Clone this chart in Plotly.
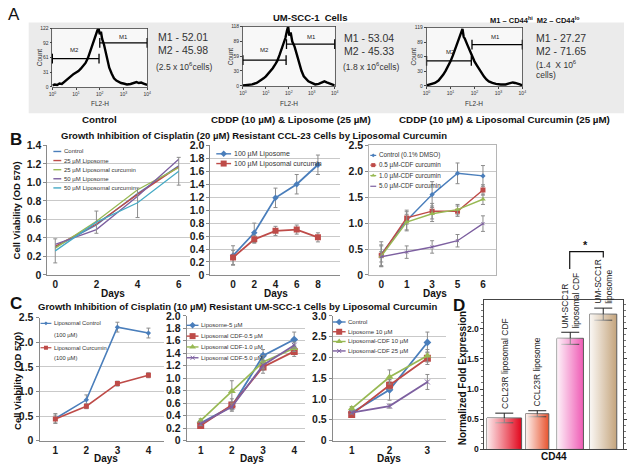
import numpy as np
import plotly.graph_objects as go

W, H = 630, 469
SANS = "Liberation Sans, Arial, Helvetica, sans-serif"

# ====================== DATA ======================
# Panel A - flow cytometry histograms (log10 FL2-H channel, event count)
ctrl_log_fl = [0.00, 0.10, 0.20, 0.30, 0.40, 0.50, 0.60, 0.70, 0.80, 0.90, 1.00, 1.10, 1.20, 1.30, 1.40,
               1.50, 1.60, 1.70, 1.78, 1.85, 1.90, 1.95, 2.00, 2.05, 2.10, 2.18, 2.25, 2.32, 2.40, 2.50,
               2.60, 2.70, 2.80, 2.90, 3.00, 3.15, 3.30, 3.45, 3.55, 3.65, 3.75, 3.85, 3.95, 4.00]
ctrl_count = [3, 5, 4, 7, 6, 10, 14, 19, 24, 27, 30, 33, 38, 44, 50,
              60, 75, 90, 102, 112, 118, 122, 110, 115, 100, 88, 72, 55, 40, 28,
              18, 13, 10, 8, 7, 5, 6, 9, 10, 8, 9, 7, 5, 4]
lipo_log_fl = [0.0, 0.2, 0.4, 0.6, 0.8, 0.9, 1.0, 1.1, 1.2, 1.3, 1.4, 1.5, 1.6, 1.7, 1.78, 1.85, 1.92,
               1.97, 2.02, 2.08, 2.15, 2.25, 2.35, 2.45, 2.55, 2.65, 2.75, 2.85, 3.0, 3.15, 3.3, 3.45,
               3.55, 3.65, 3.8, 3.9, 4.0]
lipo_count = [1, 2, 3, 6, 11, 15, 19, 24, 29, 35, 42, 50, 62, 75, 85, 95, 110,
              118, 100, 106, 88, 78, 62, 45, 30, 19, 13, 9, 6, 3, 4, 7,
              9, 7, 4, 2, 1]
curc_log_fl = [0.0, 0.2, 0.35, 0.5, 0.6, 0.7, 0.8, 0.9, 1.0, 1.1, 1.2, 1.3, 1.38, 1.45, 1.5, 1.55, 1.6,
               1.7, 1.8, 1.9, 2.0, 2.1, 2.2, 2.3, 2.4, 2.5, 2.6, 2.75, 2.9, 3.1, 3.3, 3.45, 3.6, 3.7,
               3.8, 3.9, 4.0]
curc_count = [1, 3, 6, 11, 16, 23, 31, 40, 50, 62, 76, 88, 98, 108, 116, 100, 96,
              84, 72, 60, 50, 42, 34, 26, 19, 13, 9, 6, 4, 3, 3, 5, 7, 6,
              5, 3, 1]
hist_ymax = [122, 118, 119]
hist_yticks = [[0, 31, 61, 92, 122], [0, 30, 59, 89, 118], [0, 30, 60, 89, 119]]
m1_gate_fl = [[100, 10000], [79, 10000], [79, 10000]]
m1_gate_level = [92, 83, 84]
m2_gate_fl = [[1, 93], [1, 76], [1, 74]]
m2_gate_level = [59, 51, 51]
m1_pct = ["52.01", "53.04", "27.27"]
m2_pct = ["45.98", "45.33", "71.65"]
cell_counts = ["2.5", "1.8", "1.4"]
treatments = ["Control", "CDDP (10 µM) & Liposome (25 µM)", "CDDP (10 µM) & Liposomal Curcumin (25 µM)"]

# Panel B1
b1_days = [0, 2, 4, 6]
b1_control = [0.30, 0.54, 0.88, 1.18]
b1_lipo25 = [0.31, 0.55, 0.87, 1.17]
b1_curc25 = [0.29, 0.58, 0.92, 1.16]
b1_lipo50 = [0.33, 0.49, 0.85, 1.25]
b1_curc50 = [0.26, 0.57, 0.78, 1.12]
b1_curc50_err = [0.13, 0.12, 0.16, 0.15]
b1_names = ["Control", "25 µM Liposome", "25 µM Liposomal curcumin", "50 µM Liposome", "50 µM Liposomal curcumin"]

# Panel B2
b2_days = [0, 2, 4, 6, 8]
b2_lipo = [0.30, 0.65, 1.19, 1.40, 1.70]
b2_lipo_err = [0.15, 0.15, 0.15, 0.15, 0.15]
b2_curc = [0.27, 0.55, 0.68, 0.70, 0.58]
b2_curc_err = [0.11, 0.06, 0.07, 0.07, 0.07]
b2_names = ["100 µM Liposome", "100 µM Liposomal curcumin"]

# Panel B3
b3_days = ["0", "1", "3", "5", "6"]
b3_control = [0.40, 1.05, 1.55, 1.96, 1.91]
b3_control_err = [0.24, 0.20, 0.25, 0.20, 0.20]
b3_cdf05 = [0.38, 1.10, 1.23, 1.23, 1.64]
b3_cdf05_err = [0.20, 0.12, 0.15, 0.10, 0.10]
b3_cdf10 = [0.36, 1.02, 1.18, 1.26, 1.46]
b3_cdf10_err = [0.20, 0.15, 0.15, 0.10, 0.10]
b3_cdf50 = [0.35, 0.44, 0.54, 0.66, 0.99]
b3_cdf50_err = [0.10, 0.12, 0.12, 0.12, 0.15]
b3_names = ["Control (0.1% DMSO)", "0.5 µM-CDF curcumin", "1.0 µM-CDF curcumin", "5.0 µM-CDF curcumin"]

# Panel C1
c1_days = [1, 2, 3, 4]
c1_lipo = [0.45, 0.83, 2.31, 2.19]
c1_lipo_err = [0.10, 0.10, 0.10, 0.10]
c1_curc = [0.44, 0.70, 1.16, 1.33]
c1_curc_err = [0.08, 0.05, 0.05, 0.05]
c1_names = ["Liposomal Control", "Liposomal Curcumin"]

# Panel C2
c2_days = [1, 2, 3, 4]
c2_lipo5 = [0.28, 0.55, 1.36, 1.62]
c2_lipo5_err = [0.03, 0.05, 0.10, 0.12]
c2_cdf05 = [0.24, 0.57, 1.18, 1.43]
c2_cdf05_err = [0.03, 0.10, 0.10, 0.08]
c2_cdf10 = [0.32, 0.79, 1.26, 1.48]
c2_cdf10_err = [0.03, 0.17, 0.10, 0.05]
c2_cdf50 = [0.27, 0.54, 1.21, 1.53]
c2_cdf50_err = [0.03, 0.05, 0.08, 0.05]
c2_names = ["Liposome-5 µM", "Liposomal CDF-0.5 µM", "Liposomal CDF-1.0 µM", "Liposomal CDF-5.0 µM"]

# Panel C3
c3_days = [1, 2, 3]
c3_control = [0.67, 1.22, 2.36]
c3_control_err = [0.05, 0.25, 0.25]
c3_lipo10 = [0.63, 1.33, 1.98]
c3_lipo10_err = [0.05, 0.10, 0.15]
c3_cdf10 = [0.77, 1.53, 2.04]
c3_cdf10_err = [0.05, 0.17, 0.15]
c3_cdf25 = [0.67, 0.83, 1.41]
c3_cdf25_err = [0.03, 0.05, 0.18]
c3_names = ["Control", "Liposome 10 µM", "Liposomal-CDF 10 µM", "Liposomal-CDF 25 µM"]

# Panel D
d_groups = ["CCL23R liposomal CDF", "CCL23R liposome", "UM-SCC1R<br>liposomal CDF", "UM-SCC1R<br>liposome"]
d_values = [0.52, 0.59, 1.84, 2.24]
d_errors = [0.08, 0.05, 0.10, 0.10]
d_yticks = [0, 0.5, 1.0, 1.5, 2.0]

# ====================== STYLE ======================
BLUE, RED, GREEN, PURPLE, CYAN = "#4A7EBB", "#BE4B48", "#98B954", "#7D60A0", "#46AAC5"
ERR = "#8C8C8C"
GRID = "#C9C9C9"
AXC = "#8A8A8A"

fig = go.Figure()
ann = []
shapes = []
lay = {}


def dom(box):
    x0, x1, y0, y1 = box
    return [x0 / W, x1 / W], [1 - y1 / H, 1 - y0 / H]


def text(x, y, s, size, bold=False, family=SANS, xanchor="center", yanchor="middle",
         angle=0, color="#111111", align="center"):
    ann.append(dict(x=x / W, y=1 - y / H, xref="paper", yref="paper", text=s, showarrow=False,
                    xanchor=xanchor, yanchor=yanchor, textangle=angle, align=align, borderpad=0,
                    font=dict(family=family, size=size, color=color,
                              weight="bold" if bold else "normal")))


def fmt(v):
    return "0" if v == 0 else f"{v:.1f}"


# ---------------- Panel A ----------------
shapes.append(dict(type="rect", xref="paper", yref="paper", x0=25 / W, x1=628 / W,
                   y0=1 - 110 / H, y1=1 - 17 / H, fillcolor="#EBEBEB", line=dict(width=0), layer="below"))
hist_boxes = [(49, 145, 23, 83), (242, 335, 21, 82), (428, 525, 22, 82)]
hist_logs = [ctrl_log_fl, lipo_log_fl, curc_log_fl]
hist_counts = [ctrl_count, lipo_count, curc_count]
m_label_pos = [((3.0, 105), (0.95, 77)), ((3.0, 97), (0.92, 72)), ((2.9, 99), (1.0, 69))]
for k in range(3):
    sfx = "" if k == 0 else str(k + 1)
    xd, yd = dom(hist_boxes[k])
    x0, x1, y0, y1 = hist_boxes[k]
    shapes.append(dict(type="rect", xref="paper", yref="paper", x0=x0 / W, x1=x1 / W,
                       y0=1 - y1 / H, y1=1 - y0 / H, fillcolor="#F8F8F8", line=dict(width=0), layer="below"))
    fig.add_trace(go.Scatter(x=10 ** np.array(hist_logs[k]), y=hist_counts[k], mode="lines",
                             line=dict(color="black", width=2.4), xaxis="x" + sfx, yaxis="y" + sfx,
                             hoverinfo="skip", showlegend=False))
    for gate, lvl in ((m1_gate_fl[k], m1_gate_level[k]), (m2_gate_fl[k], m2_gate_level[k])):
        fig.add_trace(go.Scatter(x=gate, y=[lvl, lvl], mode="lines+markers",
                                 line=dict(color="black", width=1.3),
                                 marker=dict(symbol="line-ns-open", size=7, line=dict(width=1.3, color="black")),
                                 cliponaxis=False, xaxis="x" + sfx, yaxis="y" + sfx,
                                 hoverinfo="skip", showlegend=False))
    lay["xaxis" + sfx] = dict(domain=xd, anchor="y" + sfx, type="log", range=[0, 4],
                              tickvals=[1, 10, 100, 1000, 10000],
                              ticktext=[f"10<sup>{e}</sup>" for e in range(5)],
                              showline=True, mirror=True, linecolor="#444", linewidth=0.8,
                              ticks="outside", ticklen=2, tickcolor="#444", showgrid=False,
                              tickfont=dict(family=SANS, size=5, color="#333"), fixedrange=True)
    lay["yaxis" + sfx] = dict(domain=yd, anchor="x" + sfx, range=[0, hist_ymax[k]],
                              tickvals=hist_yticks[k], showline=True, mirror=True, linecolor="#444",
                              linewidth=0.8, ticks="outside", ticklen=2, tickcolor="#444",
                              showgrid=False, zeroline=False,
                              tickfont=dict(family=SANS, size=5, color="#333"), fixedrange=True)
    (m1x, m1y), (m2x, m2y) = m_label_pos[k]
    for lab, lx, ly in (("M1", m1x, m1y), ("M2", m2x, m2y)):
        ann.append(dict(x=lx, y=ly, xref="x" + sfx, yref="y" + sfx, text=lab, showarrow=False,
                        font=dict(family=SANS, size=6, color="#222")))
    text((x0 + x1) / 2, 100, "FL2-H", 6.5, color="#333")
    text(x0 - 13, (y0 + y1) / 2, "Count", 6.5, angle=-90, color="#333")

# A texts
GR = "#333333"
text(181, 32, f"M1 - {m1_pct[0]}", 10.5, color=GR)
text(181, 45, f"M2 - {m2_pct[0]}", 10.5, color=GR)
text(182, 62, f"({cell_counts[0]} x 10<sup>6</sup>cells)", 8.5, color=GR)
text(370, 33, f"M1 - {m1_pct[1]}", 10.5, color=GR)
text(370, 46, f"M2 - {m2_pct[1]}", 10.5, color=GR)
text(372, 62, f"({cell_counts[1]} x 10<sup>6</sup>cells)", 8.5, color=GR)
text(538, 33, f"M1 - {m1_pct[2]}", 10.5, color=GR, xanchor="left")
text(538, 46, f"M2 - {m2_pct[2]}", 10.5, color=GR, xanchor="left")
text(538, 60, f"({cell_counts[2]}  X 10<sup>6</sup>", 8.5, color=GR, xanchor="left")
text(538, 71, "cells)", 8.5, color=GR, xanchor="left")
text(97, 116, treatments[0], 9.8, bold=True)
text(291, 116, treatments[1], 9.8, bold=True)
text(507, 116, treatments[2], 9.8, bold=True)
text(10, 9, "A", 17)
text(310, 12, "UM-SCC-1  Cells", 9.5, bold=True)
text(537, 14, "M1 – CD44<sup>hi</sup>  M2 – CD44<sup>lo</sup>", 7.5, bold=True)


# ---------------- line panels ----------------
def line_panel(n, box, xrange, yrange, yticks, xtickvals=None, xtype="linear", mirror=False):
    xd, yd = dom(box)
    xa = dict(domain=xd, anchor=f"y{n}", range=xrange, type=xtype, showline=True, linecolor=AXC,
              linewidth=1, ticks="", showgrid=False, zeroline=False,
              tickfont=dict(family=SANS, size=10, color="#1A1A1A", weight="bold"), mirror=mirror,
              fixedrange=True)
    if xtickvals is not None:
        xa["tickvals"] = xtickvals
    lay[f"xaxis{n}"] = xa
    lay[f"yaxis{n}"] = dict(domain=yd, anchor=f"x{n}", range=yrange, tickvals=yticks,
                            ticktext=[fmt(v) for v in yticks], showline=True, linecolor=AXC,
                            linewidth=1, ticks="outside", ticklen=3, tickcolor=AXC, showgrid=True,
                            gridcolor=GRID, gridwidth=1, zeroline=False, mirror=mirror,
                            tickfont=dict(family=SANS, size=10.5, color="#1A1A1A", weight="bold"),
                            fixedrange=True)


def series(n, x, y, color, err=None, symbol=None, msize=5, width=1.6):
    kw = {}
    if symbol:
        kw["marker"] = dict(symbol=symbol, size=msize, color=color,
                            line=dict(width=1 if "x" in symbol else 0, color=color))
    if err is not None:
        kw["error_y"] = dict(type="data", array=err, color=ERR, thickness=1, width=2)
    fig.add_trace(go.Scatter(x=x, y=y, mode="lines+markers" if symbol else "lines",
                             line=dict(color=color, width=width), xaxis=f"x{n}", yaxis=f"y{n}",
                             hoverinfo="skip", showlegend=False, **kw))


# overlay axis (pixel space) for legends / bracket
lay["xaxis11"] = dict(domain=[0, 1], anchor="y11", range=[0, W], visible=False, fixedrange=True)
lay["yaxis11"] = dict(domain=[0, 1], anchor="x11", range=[H, 0], visible=False, fixedrange=True)


def legend_block(xs0, xs1, ys, names, colors, symbols, sizes, fsize, lw=1.4):
    for nm, yy, c, s, sz in zip(names, ys, colors, symbols, sizes):
        fig.add_trace(go.Scatter(x=[xs0, xs1], y=[yy, yy], mode="lines", line=dict(color=c, width=lw),
                                 xaxis="x11", yaxis="y11", hoverinfo="skip", showlegend=False))
        if s:
            fig.add_trace(go.Scatter(x=[(xs0 + xs1) / 2], y=[yy], mode="markers",
                                     marker=dict(symbol=s, size=sz, color=c,
                                                 line=dict(width=1 if "x" in s else 0, color=c)),
                                     xaxis="x11", yaxis="y11", hoverinfo="skip", showlegend=False))
        text(xs1 + 1.5, yy, nm, fsize, xanchor="left", color="#333")


# B1
line_panel(4, (44, 188, 143, 276), [-0.38, 6.53], [0, 1.4], [0, 0.2, 0.4, 0.6, 0.8, 1.0, 1.2, 1.4], b1_days)
series(4, b1_days, b1_control, BLUE, width=1.3)
series(4, b1_days, b1_lipo25, RED, width=1.3)
series(4, b1_days, b1_curc25, GREEN, width=1.3)
series(4, b1_days, b1_lipo50, PURPLE, width=1.3)
series(4, b1_days, b1_curc50, CYAN, err=b1_curc50_err, width=1.3)
legend_block(50, 58, [149.3, 158.6, 168.0, 177.3, 186.7], b1_names,
             [BLUE, RED, GREEN, PURPLE, CYAN], [None] * 5, [0] * 5, 6)

# B2
line_panel(5, (209, 340, 143, 276), [-2.14, 10.05], [0, 2.0],
           [0, 0.2, 0.4, 0.6, 0.8, 1.0, 1.2, 1.4, 1.6, 1.8, 2.0], b2_days)
series(5, b2_days, b2_lipo, BLUE, err=b2_lipo_err, symbol="diamond", msize=5, width=1.8)
series(5, b2_days, b2_curc, RED, err=b2_curc_err, symbol="square", msize=6, width=1.8)
legend_block(215, 230, [151.7, 161.7], b2_names, [BLUE, RED], ["diamond", "square"], [5, 6], 7)

# B3
line_panel(6, (370, 498, 143, 276), [-0.47, 4.5], [0, 2.5], [0, 0.5, 1.0, 1.5, 2.0, 2.5],
           xtype="category", mirror=True)
lay["xaxis6"]["linecolor"] = "#B5B5B5"
lay["yaxis6"]["linecolor"] = "#B5B5B5"
series(6, b3_days, b3_control, BLUE, err=b3_control_err, symbol="diamond", msize=4, width=1.4)
series(6, b3_days, b3_cdf05, RED, err=b3_cdf05_err, symbol="square", msize=5, width=1.4)
series(6, b3_days, b3_cdf10, GREEN, err=b3_cdf10_err, symbol="triangle-up", msize=5, width=1.4)
series(6, b3_days, b3_cdf50, PURPLE, err=b3_cdf50_err, symbol="x-thin", msize=3, width=1.4)
legend_block(371, 377, [153.3, 163.3, 174.0, 185.0], b3_names, [BLUE, RED, GREEN, PURPLE],
             ["diamond", "square", "triangle-up", None], [3, 4, 4, 0], 6.3, lw=1.2)

# C1
line_panel(7, (36, 162, 320, 446), [0.49, 4.5], [0, 2.5], [0, 0.5, 1.0, 1.5, 2.0, 2.5], c1_days)
series(7, c1_days, c1_lipo, BLUE, err=c1_lipo_err, symbol="diamond", msize=4, width=1.6)
series(7, c1_days, c1_curc, RED, err=c1_curc_err, symbol="square", msize=5, width=1.6)
legend_block(37, 48, [325.7, 350.7], c1_names, [BLUE, RED], ["diamond", "square"], [3, 4], 5.8, lw=1.2)
text(49.5, 337.3, "(100 µM)", 5.8, xanchor="left", color="#333")
text(49.5, 361.7, "(100 µM)", 5.8, xanchor="left", color="#333")

# C2
line_panel(8, (185, 305, 318, 446), [0.55, 4.35], [0, 2.0],
           [0, 0.2, 0.4, 0.6, 0.8, 1.0, 1.2, 1.4, 1.6, 1.8, 2.0], c2_days)
series(8, c2_days, c2_lipo5, BLUE, err=c2_lipo5_err, symbol="diamond", msize=6, width=1.8)
series(8, c2_days, c2_cdf05, RED, err=c2_cdf05_err, symbol="square", msize=7, width=1.8)
series(8, c2_days, c2_cdf10, GREEN, err=c2_cdf10_err, symbol="triangle-up", msize=7, width=1.8)
series(8, c2_days, c2_cdf50, PURPLE, err=c2_cdf50_err, symbol="x-thin", msize=5, width=1.8)
legend_block(185, 197, [327.7, 338.8, 349.9, 361.0], c2_names, [BLUE, RED, GREEN, PURPLE],
             ["diamond", "square", "triangle-up", "x-thin"], [5, 6, 6, 4], 6)

# C3
line_panel(9, (333, 448, 318, 446), [0.5, 3.5], [0, 3.0], [0, 0.5, 1.0, 1.5, 2.0, 2.5, 3.0], c3_days)
series(9, c3_days, c3_control, BLUE, err=c3_control_err, symbol="diamond", msize=6, width=1.8)
series(9, c3_days, c3_lipo10, RED, err=c3_lipo10_err, symbol="square", msize=7, width=1.8)
series(9, c3_days, c3_cdf10, GREEN, err=c3_cdf10_err, symbol="triangle-up", msize=7, width=1.8)
series(9, c3_days, c3_cdf25, PURPLE, err=c3_cdf25_err, symbol="x-thin", msize=5, width=1.8)
legend_block(333, 346, [324.3, 334.3, 344.3, 354.0], c3_names, [BLUE, RED, GREEN, PURPLE],
             ["diamond", "square", "triangle-up", "x-thin"], [5, 6, 6, 4], 6)

# row titles / axis titles
text(12, 137, "B", 17, bold=True)
text(253, 133, "Growth Inhibition of Cisplatin (20 µM) Resistant CCL-23 Cells by Liposomal Curcumin", 9.5, bold=True)
text(13, 210, "Cell Viability (OD 570)", 9.5, bold=True, angle=-90)
text(110, 295, "Days", 10, bold=True)
text(276, 295, "Days", 10, bold=True)
text(437, 295, "Days", 10, bold=True)
text(12, 305, "C", 17, bold=True)
text(236, 308, "Growth Inhibition of Cisplatin (10 µM) Resistant UM-SCC-1 Cells by Liposomal Curcumin", 9.5, bold=True)
text(13, 385, "Cell Viability (OD 570)", 9.5, bold=True, angle=-90)
text(103, 464, "Days", 10, bold=True)
text(251, 464, "Days", 10, bold=True)
text(390, 464, "Days", 10, bold=True)

# ---------------- Panel D ----------------
d_widths = [1.05, 0.70, 0.80, 0.82]
d_colors = ["#E2061C", "#E8532E", "#EF5BB5", "#C4A47C"]
d_x = list(range(len(d_values)))
D_BOX = (486, 627, 302, 455)
xd, yd = dom(D_BOX)
lay["xaxis10"] = dict(domain=xd, anchor="y10", range=[-0.62, 3.6], showticklabels=False, ticks="",
                      showline=True, mirror=True, linecolor="#444", linewidth=1, showgrid=False,
                      zeroline=False, fixedrange=True)
lay["yaxis10"] = dict(domain=yd, anchor="x10", range=[0, 2.47], tickvals=d_yticks, showticklabels=False,
                      showline=True, mirror="ticks", linecolor="#444", linewidth=1,
                      ticks="outside", ticklen=3, tickcolor="#444",
                      minor=dict(dtick=0.1, ticks="outside", ticklen=2, tickcolor="#777", showgrid=False),
                      showgrid=False, zeroline=False, fixedrange=True)
# y tick labels placed through the D y scale
for v in d_yticks:
    ann.append(dict(x=(D_BOX[0] - 4) / W, xref="paper", y=v, yref="y10", text=fmt(v), showarrow=False,
                    xanchor="right", yanchor="middle", borderpad=0,
                    font=dict(family=SANS, size=8.5, color="#111", weight="bold")))
fig.add_trace(go.Bar(x=d_x, y=d_values, width=d_widths, marker=dict(color=d_colors, line=dict(width=0)),
                     xaxis="x10", yaxis="y10", hoverinfo="skip", showlegend=False))
for i, (v, w) in enumerate(zip(d_values, d_widths)):
    fig.add_trace(go.Scatter(x=[i - w / 2, i + w / 2, i + w / 2, i - w / 2, i - w / 2],
                             y=[0, 0, v, v, 0], mode="lines", fill="toself", line=dict(width=0),
                             fillgradient=dict(type="horizontal",
                                               colorscale=[[0, "rgba(255,255,255,0.92)"],
                                                           [0.35, "rgba(255,255,255,0.6)"],
                                                           [1, "rgba(255,255,255,0)"]]),
                             xaxis="x10", yaxis="y10", hoverinfo="skip", showlegend=False))
fig.add_trace(go.Bar(x=d_x, y=d_values, width=d_widths,
                     marker=dict(color="rgba(0,0,0,0)", line=dict(color="#5A5A5A", width=1)),
                     error_y=dict(type="data", array=d_errors, color="#222", thickness=1, width=9),
                     xaxis="x10", yaxis="y10", hoverinfo="skip", showlegend=False))
for i, (lab, v, e) in enumerate(zip(d_groups, d_values, d_errors)):
    ann.append(dict(x=i, y=v + e, xref="x10", yref="y10", text=lab, showarrow=False, textangle=-90,
                    xanchor="center", yanchor="bottom", yshift=3, align="left", borderpad=0,
                    font=dict(family=SANS, size=8.5, color="#222")))
text(461, 307, "D", 17, bold=True)
text(464, 382, "Normalized Fold Expression", 10, bold=True, angle=-90)
text(557, 462, "CD44", 10, bold=True)
# significance bracket
fig.add_trace(go.Scatter(x=[573, 573, 607, 607], y=[270, 252, 252, 258], mode="lines",
                         line=dict(color="#111", width=1.2), xaxis="x11", yaxis="y11",
                         hoverinfo="skip", showlegend=False))
text(589, 245, "*", 11, bold=True)

fig.update_layout(width=W, height=H, margin=dict(l=0, r=0, t=0, b=0), paper_bgcolor="white",
                  plot_bgcolor="rgba(0,0,0,0)", showlegend=False, barmode="overlay",
                  annotations=ann, shapes=shapes, **lay)
fig.write_html("out.html", config={"staticPlot": True, "displayModeBar": False},
               post_script="document.body.style.margin='0';document.body.style.padding='0';"
                           "document.body.style.overflow='hidden';")
